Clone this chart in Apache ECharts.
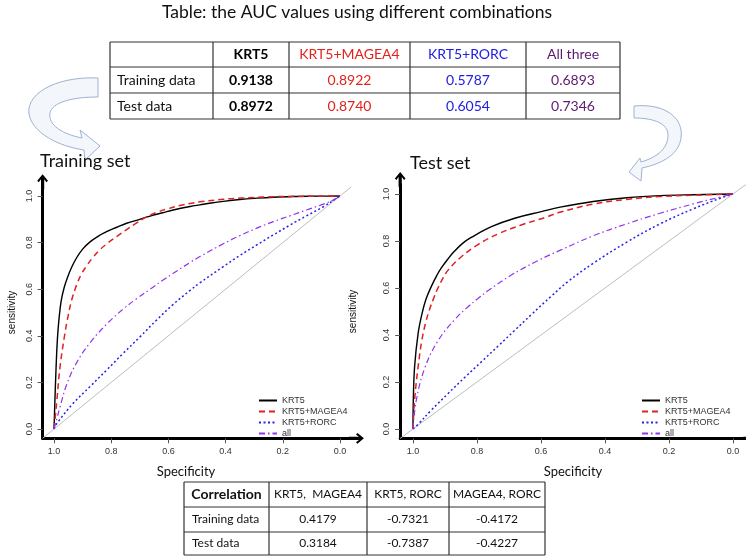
<!DOCTYPE html>
<html>
<head>
<meta charset="utf-8">
<script src="https://cdn.jsdelivr.net/npm/echarts@6/dist/echarts.min.js"></script>
<style>html,body{margin:0;padding:0;background:#fff;}#c{width:746px;height:559px;}</style>
</head>
<body>
<div id="c"></div>
<script>
// ---------- data ----------
const seriesNames = ['KRT5', 'KRT5+MAGEA4', 'KRT5+RORC', 'all'];
const axisTicks = [0, 0.2, 0.4, 0.6, 0.8, 1.0];
const diagonal = [[1.04, -0.04], [-0.04, 1.04]];

// Training set ROC curves: [specificity, sensitivity]
const trainKRT5 = [[1,0],[0.997,0.12],[0.993,0.26],[0.988,0.39],[0.982,0.48],[0.975,0.55],[0.965,0.605],[0.953,0.65],[0.938,0.695],[0.921,0.735],[0.9,0.772],[0.874,0.803],[0.845,0.828],[0.816,0.847],[0.78,0.866],[0.746,0.883],[0.7,0.9],[0.664,0.914],[0.62,0.928],[0.583,0.94],[0.524,0.955],[0.49,0.962],[0.45,0.97],[0.408,0.977],[0.35,0.985],[0.3,0.99],[0.233,0.995],[0.15,0.998],[0.07,0.9995],[0,1]];
const trainMAGEA4 = [[1,0],[0.995,0.06],[0.99,0.124],[0.979,0.267],[0.962,0.41],[0.95,0.49],[0.938,0.555],[0.921,0.618],[0.905,0.663],[0.886,0.7],[0.865,0.735],[0.839,0.77],[0.81,0.8],[0.781,0.826],[0.75,0.853],[0.711,0.885],[0.68,0.908],[0.641,0.93],[0.6,0.946],[0.56,0.959],[0.524,0.968],[0.49,0.975],[0.408,0.986],[0.35,0.991],[0.233,0.997],[0.12,0.999],[0,1]];
const trainRORC = [[1,0],[0.99,0.024],[0.933,0.11],[0.874,0.182],[0.816,0.253],[0.758,0.325],[0.699,0.396],[0.641,0.468],[0.583,0.535],[0.524,0.595],[0.49,0.627],[0.408,0.697],[0.35,0.745],[0.291,0.79],[0.233,0.833],[0.175,0.875],[0.117,0.915],[0.058,0.954],[0.012,0.99],[0,1]];
const trainAll = [[1,0],[0.99,0.045],[0.979,0.095],[0.956,0.19],[0.921,0.285],[0.874,0.37],[0.816,0.45],[0.758,0.515],[0.71,0.56],[0.664,0.6],[0.62,0.638],[0.583,0.668],[0.524,0.715],[0.49,0.74],[0.408,0.795],[0.35,0.83],[0.291,0.862],[0.233,0.89],[0.175,0.915],[0.117,0.94],[0.058,0.965],[0.02,0.985],[0,1]];

// Test set ROC curves
const testKRT5 = [[1,0],[0.999,0.123],[0.995,0.265],[0.984,0.407],[0.972,0.49],[0.96,0.55],[0.943,0.606],[0.925,0.655],[0.912,0.685],[0.89,0.725],[0.87,0.757],[0.845,0.79],[0.818,0.815],[0.755,0.861],[0.682,0.897],[0.599,0.925],[0.54,0.944],[0.437,0.968],[0.332,0.984],[0.228,0.993],[0.124,0.997],[0,1]];
const testMAGEA4 = [[1,0],[0.995,0.123],[0.984,0.265],[0.972,0.38],[0.96,0.455],[0.948,0.51],[0.935,0.558],[0.922,0.6],[0.905,0.645],[0.891,0.675],[0.849,0.733],[0.797,0.785],[0.734,0.83],[0.662,0.868],[0.588,0.9],[0.541,0.922],[0.437,0.957],[0.332,0.977],[0.228,0.989],[0.124,0.995],[0,1]];
const testRORC = [[1,0],[0.984,0.02],[0.943,0.08],[0.891,0.15],[0.838,0.22],[0.787,0.285],[0.734,0.353],[0.682,0.42],[0.63,0.487],[0.568,0.565],[0.516,0.627],[0.437,0.705],[0.332,0.795],[0.228,0.873],[0.124,0.937],[0.04,0.982],[0,1]];
const testAll = [[1,0],[0.99,0.12],[0.963,0.26],[0.922,0.375],[0.87,0.465],[0.828,0.52],[0.797,0.555],[0.766,0.588],[0.693,0.655],[0.609,0.717],[0.541,0.76],[0.437,0.822],[0.332,0.873],[0.228,0.918],[0.124,0.958],[0.04,0.987],[0,1]];

// AUC table
const aucTitle = 'Table: the AUC values using different combinations';
const aucHeader = ['', 'KRT5', 'KRT5+MAGEA4', 'KRT5+RORC', 'All three'];
const aucRowLabels = ['Training data', 'Test data'];
const aucTraining = [0.9138, 0.8922, 0.5787, 0.6893];
const aucTest = [0.8972, 0.8740, 0.6054, 0.7346];

// Correlation table
const corHeader = ['Correlation', 'KRT5,  MAGEA4', 'KRT5, RORC', 'MAGEA4, RORC'];
const corRowLabels = ['Training data', 'Test data'];
const corTraining = [0.4179, -0.7321, -0.4172];
const corTest = [0.3184, -0.7387, -0.4227];

// ---------- styles ----------
const colors = ['#000000', '#dd2222', '#2424e6', '#9433ee'];
const dashes = ['solid', [6, 4], [2, 2.5], [6, 3, 1.5, 3]];
const widths = [1.4, 1.5, 1.5, 1.2];
const headColors = ['#000', '#000', '#e3221c', '#2020e0', '#5b1a70'];
const CAL = 'Lato, "Open Sans", sans-serif';
const HEL = '"Liberation Sans", Arial, sans-serif';
const arrowPath = 'path://M5,0 L10,6 L8.6,7.4 L6.5,4.6 L6.5,14 L3.5,14 L3.5,4.6 L1.4,7.4 L0,6 Z';

// custom shape for the curved outline arrows
echarts.graphic.registerShape('cmdPath', echarts.graphic.extendShape({
  shape: {cmds: []},
  buildPath: function (ctx, shape) {
    shape.cmds.forEach(function (c) {
      if (c[0] === 'M') ctx.moveTo(c[1], c[2]);
      else if (c[0] === 'L') ctx.lineTo(c[1], c[2]);
      else if (c[0] === 'C') ctx.bezierCurveTo(c[1], c[2], c[3], c[4], c[5], c[6]);
      else if (c[0] === 'Z') ctx.closePath();
    });
  }
}));

const chart = echarts.init(document.getElementById('c'), null, {renderer: 'canvas'});

function xAxisDef(gi) {
  return {
    type: 'value', gridIndex: gi, min: -0.04, max: 1.04, inverse: true,
    axisLine: {show: true, onZero: false, lineStyle: {color: '#000', width: 3},
      symbol: ['none', arrowPath], symbolSize: [11, 15], symbolOffset: [0, 5]},
    axisTick: {show: true, customValues: axisTicks, length: 5, lineStyle: {color: '#555'}},
    axisLabel: {customValues: axisTicks, formatter: v => v.toFixed(1), fontSize: 9, fontFamily: HEL, color: '#333', margin: 9},
    splitLine: {show: false},
    name: 'Specificity', nameLocation: 'middle', nameGap: 27,
    nameTextStyle: {fontFamily: CAL, fontSize: 13, color: '#111', padding: gi === 0 ? [0, 22, 0, 0] : [0, 0, 0, 0]}
  };
}
function yAxisDef(gi) {
  return {
    type: 'value', gridIndex: gi, min: -0.04, max: 1.04,
    axisLine: {show: true, onZero: false, lineStyle: {color: '#000', width: 3},
      symbol: ['none', arrowPath], symbolSize: [11, 15], symbolOffset: [0, 5]},
    axisTick: {show: true, customValues: axisTicks, length: 5, lineStyle: {color: '#555'}},
    axisLabel: {customValues: axisTicks, formatter: v => v.toFixed(1), fontSize: 9, fontFamily: HEL, color: '#333', margin: 9, rotate: 90},
    splitLine: {show: false},
    name: 'sensitivity', nameLocation: 'middle', nameGap: gi === 0 ? 25 : 42,
    nameTextStyle: {fontFamily: HEL, fontSize: 10, color: '#111'}
  };
}

const trainSets = [trainKRT5, trainMAGEA4, trainRORC, trainAll];
const testSets = [testKRT5, testMAGEA4, testRORC, testAll];
const series = [];
[trainSets, testSets].forEach((sets, gi) => {
  series.push({
    type: 'line', name: 'ref', xAxisIndex: gi, yAxisIndex: gi, data: diagonal,
    symbol: 'none', silent: true, lineStyle: {color: '#bdbdbd', width: 1}
  });
  sets.forEach((d, i) => {
    series.push({
      type: 'line', name: seriesNames[i], xAxisIndex: gi, yAxisIndex: gi, data: d,
      symbol: 'none', smooth: 0.4,
      itemStyle: {color: colors[i]},
      lineStyle: {color: colors[i], width: widths[i], type: dashes[i]}
    });
  });
});

// ---------- tables (graphic) ----------
const graphics = [];
function cellLines(cols, rows) {
  const x0 = cols[0], x1 = cols[cols.length - 1], y0 = rows[0], y1 = rows[rows.length - 1];
  rows.forEach(y => graphics.push({type: 'line', shape: {x1: x0, y1: y, x2: x1, y2: y}, style: {stroke: '#333', lineWidth: 1.2}}));
  cols.forEach(x => graphics.push({type: 'line', shape: {x1: x, y1: y0, x2: x, y2: y1}, style: {stroke: '#333', lineWidth: 1.2}}));
}
function txt(x, y, s, font, fill, align) {
  graphics.push({type: 'text', x: x, y: y, style: {text: s, font: font, fill: fill,
    align: align || 'center', verticalAlign: 'middle', textAlign: align || 'center', textVerticalAlign: 'middle'}});
}
// AUC table
const aCols = [110, 213, 289, 410, 526, 620];
const aRows = [42, 67, 93, 119];
cellLines(aCols, aRows);
aucHeader.forEach((h, j) => {
  if (!h) return;
  txt((aCols[j] + aCols[j + 1]) / 2, (aRows[0] + aRows[1]) / 2, h, (j === 1 ? 'bold ' : '') + '14px ' + CAL, headColors[j]);
});
[aucTraining, aucTest].forEach((vals, r) => {
  const cy = (aRows[r + 1] + aRows[r + 2]) / 2;
  txt(aCols[0] + 7, cy, aucRowLabels[r], '14px ' + CAL, '#111', 'left');
  vals.forEach((v, j) => {
    txt((aCols[j + 1] + aCols[j + 2]) / 2, cy, v.toFixed(4), (j === 0 ? 'bold ' : '') + '14px ' + CAL, headColors[j + 1]);
  });
});
// Correlation table
const cCols = [184, 269, 367, 449, 545];
const cRows = [482, 507, 532, 555];
cellLines(cCols, cRows);
corHeader.forEach((h, j) => {
  txt((cCols[j] + cCols[j + 1]) / 2, (cRows[0] + cRows[1]) / 2, h, (j === 0 ? 'bold 14px ' : '12px ') + CAL, '#111');
});
[corTraining, corTest].forEach((vals, r) => {
  const cy = (cRows[r + 1] + cRows[r + 2]) / 2;
  txt(cCols[0] + 8, cy, corRowLabels[r], '12px ' + CAL, '#111', 'left');
  vals.forEach((v, j) => {
    txt((cCols[j + 1] + cCols[j + 2]) / 2, cy, v.toFixed(4), '12px ' + CAL, '#111');
  });
});
// curved arrows
const arrowStyle = {fill: '#f3f6fb', stroke: '#9fb3d1', lineWidth: 1};
graphics.push({type: 'cmdPath', shape: {cmds: [['M',98,78],['C',55,76,22,95,30,118],['C',36,134,58,146,84,150],['L',85,160],['L',100,146],['L',80,130],['L',82,138],['C',62,134,48,125,50,113],['C',52,103,70,97,98,97],['Z']]}, style: arrowStyle});
graphics.push({type: 'cmdPath', shape: {cmds: [['M',634,106],['C',665,103,684,118,681,138],['C',679,153,665,163,642,168],['L',641,181],['L',629,172],['L',640,158],['L',641,162],['C',658,157,668,148,668,135],['C',668,124,655,118,634,118],['Z']]}, style: arrowStyle});

const legendBase = {data: seriesNames, top: 396, orient: 'vertical', itemWidth: 18, itemHeight: 8, itemGap: 2, padding: 0,
  selectedMode: false, itemStyle: {opacity: 0}, textStyle: {fontSize: 9, fontFamily: HEL, color: '#333'}};

const option = {
  animation: false,
  backgroundColor: '#fff',
  title: [
    {text: aucTitle, left: 357, top: 3, textAlign: 'center', padding: 0,
      textStyle: {fontFamily: CAL, fontSize: 17.5, fontWeight: 'normal', color: '#111'}},
    {text: 'Training set', left: 40, top: 152, padding: 0,
      textStyle: {fontFamily: CAL, fontSize: 18, fontWeight: 'normal', color: '#111'}},
    {text: 'Test set', left: 410, top: 154, padding: 0,
      textStyle: {fontFamily: CAL, fontSize: 18, fontWeight: 'normal', color: '#111'}}
  ],
  grid: [
    {left: 42.6, top: 186.7, width: 308.8, height: 251.6},
    {left: 400.2, top: 184.6, width: 345.6, height: 253.8}
  ],
  xAxis: [xAxisDef(0), xAxisDef(1)],
  yAxis: [yAxisDef(0), yAxisDef(1)],
  legend: [
    Object.assign({}, legendBase, {left: 258}),
    Object.assign({}, legendBase, {left: 641})
  ],
  series: series,
  graphic: graphics
};
chart.setOption(option);
</script>
</body>
</html>
